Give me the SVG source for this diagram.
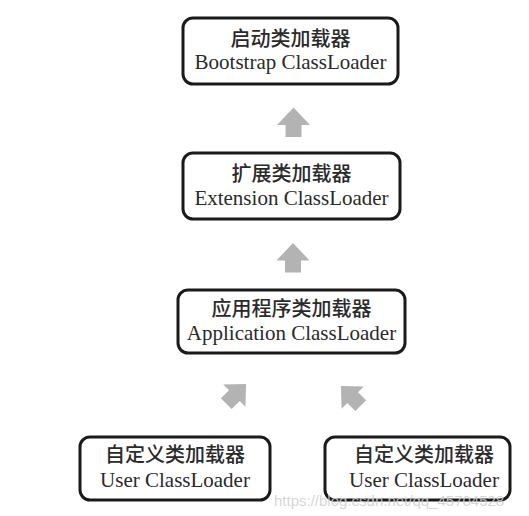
<svg xmlns="http://www.w3.org/2000/svg" width="529" height="516" viewBox="0 0 529 516">
<style>
.box{fill:#fff;stroke:#1a1a1a;stroke-width:3}
.zh{font-family:"Noto Sans CJK SC","Liberation Serif",sans-serif;font-size:20px;font-weight:500;fill:#2a2a2a;text-anchor:middle}
.en{font-family:"Liberation Serif",serif;font-size:21px;fill:#2a2a2a;text-anchor:middle}
.arr{fill:#b3b3b3}
.wm{font-family:"Liberation Sans",sans-serif;font-size:15px;fill:#d0d0d0;opacity:0.85}
</style>
<defs>
<path id="up" d="M0,-15 L16.5,2.5 L8,2.5 L8,14.5 L-8,14.5 L-8,2.5 L-16.5,2.5 Z"/>
</defs>
<rect width="529" height="516" fill="#fff"/>
<g id="connectors">
<use href="#up" class="arr" transform="translate(293.5,122.5)"/>
<use href="#up" class="arr" transform="translate(293,258)"/>
<use href="#up" class="arr" transform="translate(236,394) rotate(45) scale(0.95)"/>
<use href="#up" class="arr" transform="translate(351,396) rotate(-45) scale(0.95)"/>
</g>
<g id="bootstrap">
<rect class="box" x="183" y="18" width="215" height="66" rx="10"/>
<text class="zh" x="290.5" y="46">启动类加载器</text>
<text class="en" x="290.5" y="69">Bootstrap ClassLoader</text>
</g>
<g id="extension">
<rect class="box" x="183" y="153" width="217" height="66" rx="10"/>
<text class="zh" x="291.5" y="181">扩展类加载器</text>
<text class="en" x="291.5" y="205">Extension ClassLoader</text>
</g>
<g id="application">
<rect class="box" x="178" y="290" width="227" height="63" rx="10"/>
<text class="zh" x="291.5" y="316">应用程序类加载器</text>
<text class="en" x="291.5" y="340">Application ClassLoader</text>
</g>
<g id="user1">
<rect class="box" x="80" y="437" width="190" height="63" rx="10"/>
<text class="zh" x="175" y="462">自定义类加载器</text>
<text class="en" x="175" y="487">User ClassLoader</text>
</g>
<g id="user2">
<rect class="box" x="325" y="437" width="185" height="63" rx="10"/>
<text class="zh" x="424" y="462">自定义类加载器</text>
<text class="en" x="424" y="487">User ClassLoader</text>
</g>
<text class="wm" x="274" y="506">https://blog.csdn.net/qq_45704528</text>
</svg>
